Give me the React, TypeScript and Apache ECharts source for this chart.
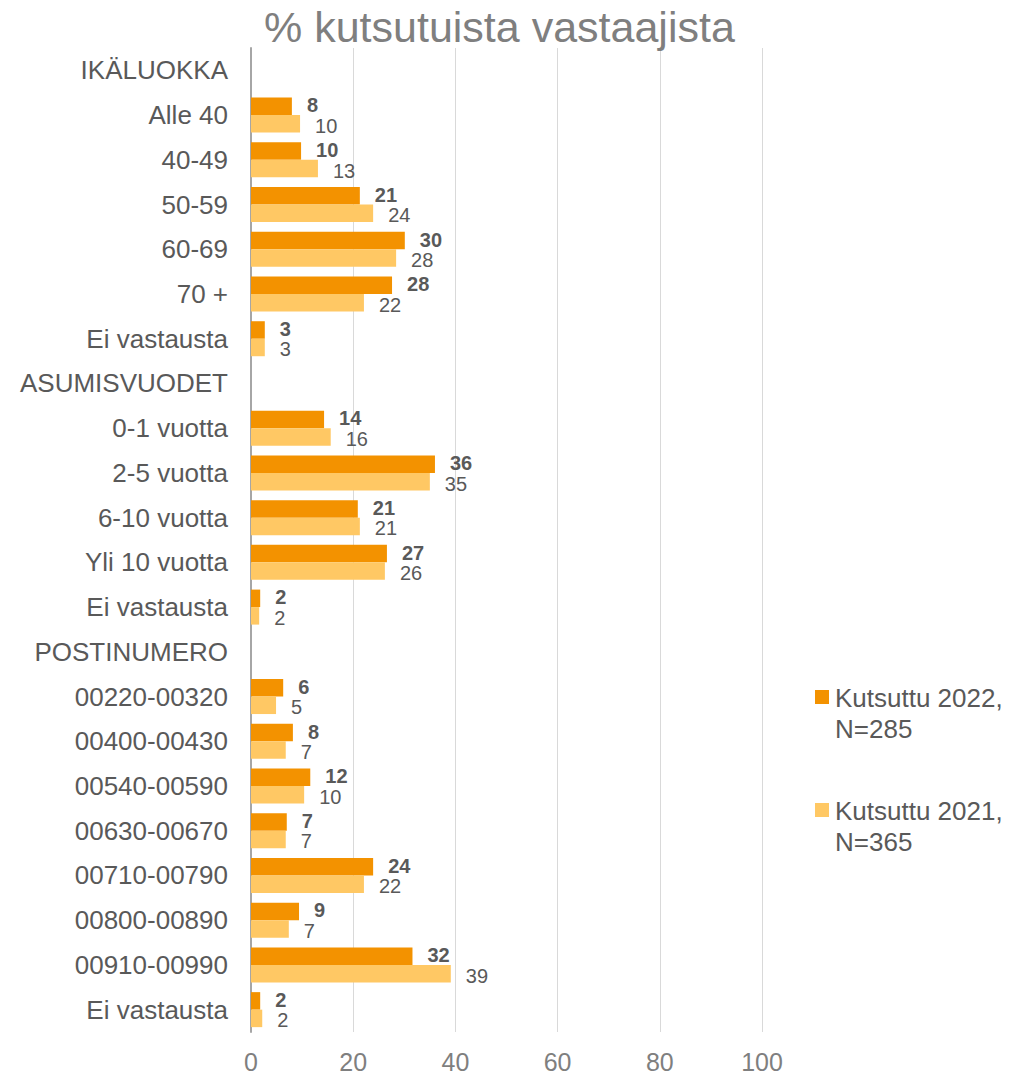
import React, { useEffect, useRef } from "react";
import * as echarts from "echarts";

const categories = [
  "IKÄLUOKKA", "Alle 40", "40-49", "50-59", "60-69", "70 +", "Ei vastausta",
  "ASUMISVUODET", "0-1 vuotta", "2-5 vuotta", "6-10 vuotta", "Yli 10 vuotta", "Ei vastausta",
  "POSTINUMERO", "00220-00320", "00400-00430", "00540-00590", "00630-00670", "00710-00790",
  "00800-00890", "00910-00990", "Ei vastausta",
];

const values2022 = [
  null, 8.0, 9.8, 21.3, 30.1, 27.6, 2.7,
  null, 14.3, 36.0, 20.9, 26.6, 1.8,
  null, 6.3, 8.2, 11.6, 7.0, 23.9, 9.4, 31.6, 1.8,
];

const values2021 = [
  null, 9.6, 13.1, 23.9, 28.4, 22.1, 2.7,
  null, 15.6, 35.0, 21.3, 26.2, 1.6,
  null, 4.9, 6.8, 10.4, 6.8, 22.1, 7.4, 39.1, 2.2,
];

const xTicks = [0, 20, 40, 60, 80, 100];
const seriesNames = ["Kutsuttu 2022, N=285", "Kutsuttu 2021, N=365"];
const legendLines = [["Kutsuttu 2022,", "N=285"], ["Kutsuttu 2021,", "N=365"]];

const FONT = "Liberation Sans, Arial, sans-serif";
const DARK = "#F39200";
const LIGHT = "#FFC864";

export default function App() {
  const ref = useRef<HTMLDivElement>(null);
  useEffect(() => {
    if (!ref.current) return;
    const chart = echarts.init(ref.current, undefined, { renderer: "svg" });
    const labelFmt = (p: any) => (p.value == null ? "" : String(Math.round(p.value)));
    chart.setOption({
      animation: false,
      textStyle: { fontFamily: FONT },
      title: {
        text: "% kutsutuista vastaajista",
        left: 259,
        top: 0,
        textStyle: { fontFamily: FONT, fontSize: 43, fontWeight: "normal", color: "#7f7f7f" },
      },
      grid: { left: 251, top: 48, width: 511, height: 984, containLabel: false },
      xAxis: {
        type: "value",
        min: xTicks[0],
        max: xTicks[xTicks.length - 1],
        interval: 20,
        axisLine: { show: false },
        axisTick: { show: false },
        splitLine: { lineStyle: { color: "#d9d9d9", width: 1 } },
        axisLabel: { fontSize: 25, color: "#7f7f7f", margin: 17, fontFamily: FONT },
      },
      yAxis: {
        type: "category",
        data: categories,
        inverse: true,
        axisLine: { show: true, lineStyle: { color: "#a6a6a6", width: 2 } },
        axisTick: { show: false },
        axisLabel: { fontSize: 26, color: "#595959", margin: 23, fontFamily: FONT },
      },
      series: [
        {
          name: seriesNames[0],
          type: "bar",
          data: values2022,
          barWidth: 17.5,
          barGap: "0%",
          itemStyle: { color: DARK },
          label: {
            show: true,
            position: "right",
            distance: 15,
            offset: [0, -1],
            formatter: labelFmt,
            fontSize: 20,
            lineHeight: 17,
            fontWeight: "bold",
            color: "#595959",
            fontFamily: FONT,
          },
        },
        {
          name: seriesNames[1],
          type: "bar",
          data: values2021,
          barWidth: 17.5,
          barGap: "0%",
          itemStyle: { color: LIGHT },
          label: {
            show: true,
            position: "right",
            distance: 15,
            offset: [0, 2],
            formatter: labelFmt,
            fontSize: 20,
            lineHeight: 17,
            color: "#595959",
            fontFamily: FONT,
          },
        },
      ],
      graphic: [
        { type: "rect", left: 815, top: 690, shape: { width: 14, height: 14 }, style: { fill: DARK } },
        {
          type: "text",
          left: 835,
          top: 682,
          style: { text: legendLines[0].join("\n"), font: `26px ${FONT}`, fill: "#595959", lineHeight: 31 },
        },
        { type: "rect", left: 815, top: 803, shape: { width: 14, height: 14 }, style: { fill: LIGHT } },
        {
          type: "text",
          left: 835,
          top: 795,
          style: { text: legendLines[1].join("\n"), font: `26px ${FONT}`, fill: "#595959", lineHeight: 31 },
        },
      ],
    });
    return () => chart.dispose();
  }, []);
  return (
    <div
      ref={ref}
      style={{ position: "absolute", left: 0, top: 0, width: 1010, height: 1078, background: "#fff" }}
    />
  );
}
